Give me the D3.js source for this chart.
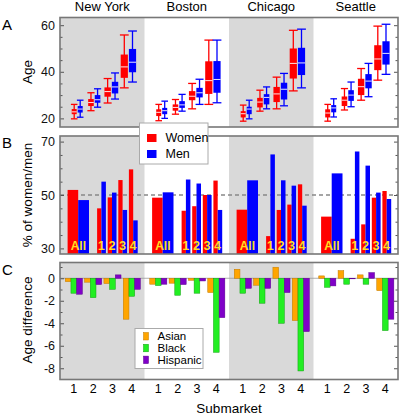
<!DOCTYPE html>
<html>
<head>
<meta charset="utf-8">
<script src="https://cdn.jsdelivr.net/npm/d3@7"></script>
<style>
  body { margin: 0; background: #fff; }
  svg text { font-family: "Liberation Sans", Arial, Helvetica, sans-serif; }
</style>
</head>
<body>
<script>
// data
var cities = ["New York", "Boston", "Chicago", "Seattle"];
var submarkets = ["1", "2", "3", "4"];

// panel A : [low whisker, q1, median, q3, high whisker]
var ageWomen = [
  [[19.8, 21.8, 22.8, 24.0, 26.0], [23.3, 25.3, 26.8, 28.3, 31.0], [26.6, 29.3, 31.5, 33.3, 37.1], [33.1, 37.4, 42.1, 47.4, 55.8]],
  [[19.0, 21.0, 22.6, 23.9, 26.0], [21.8, 23.3, 24.7, 26.0, 28.1], [24.1, 27.8, 29.5, 31.7, 35.0], [26.0, 30.5, 36.2, 44.5, 53.6]],
  [[18.8, 20.4, 22.0, 23.1, 25.7], [23.1, 24.7, 27.0, 28.8, 32.1], [24.1, 27.0, 30.5, 33.5, 37.7], [31.8, 37.1, 43.6, 50.0, 57.8]],
  [[18.8, 20.4, 22.3, 23.9, 26.0], [23.6, 25.3, 27.8, 29.4, 32.8], [27.8, 30.0, 33.6, 37.0, 41.4], [36.4, 40.7, 45.5, 51.4, 59.6]]
];
var ageMen = [
  [[20.5, 22.5, 24.0, 25.3, 27.8], [24.8, 26.7, 28.0, 30.0, 32.7], [28.3, 30.7, 33.5, 35.7, 39.5], [35.6, 39.8, 44.1, 49.8, 57.5]],
  [[20.0, 21.8, 23.3, 24.5, 27.4], [23.1, 24.5, 25.8, 27.4, 30.3], [26.0, 29.0, 31.0, 33.1, 36.8], [26.7, 31.0, 36.7, 44.6, 53.6]],
  [[19.8, 21.8, 24.0, 25.0, 27.8], [24.1, 26.0, 29.0, 30.4, 33.5], [25.4, 28.1, 32.5, 35.3, 39.3], [33.1, 38.6, 43.8, 50.3, 58.3]],
  [[20.6, 22.6, 24.5, 25.7, 28.4], [25.0, 27.5, 30.0, 32.1, 35.6], [29.3, 32.9, 36.0, 39.0, 43.6], [38.9, 43.1, 47.9, 53.1, 60.4]]
];

// panel B : % of women / men
var pctWomenAll = [51.9, 49.0, 44.5, 41.9];
var pctMenAll = [48.1, 51.0, 55.5, 58.1];
var pctWomen = [[45.0, 49.1, 55.6, 59.6], [44.1, 45.8, 50.0, 55.4], [34.6, 44.4, 46.4, 54.0], [33.6, 39.0, 49.0, 51.5]];
var pctMen = [[55.0, 50.9, 44.4, 40.5], [55.8, 54.3, 50.0, 44.4], [65.2, 55.5, 53.5, 46.0], [66.3, 61.0, 50.9, 48.5]];

// panel C : age difference
var diffAsian = [[-0.30, -0.35, -0.47, -3.64], [-0.53, -0.44, -0.18, -1.27], [0.80, -0.62, 0.98, -3.76], [0.21, 0.68, 0.30, -1.10]];
var diffBlack = [[-1.33, -1.72, -0.98, -1.60], [-0.65, -1.51, -1.33, -6.58], [-1.33, -2.22, -4.00, -8.24], [-0.80, -0.53, -0.53, -4.65]];
var diffHispanic = [[-1.42, -0.56, 0.30, -0.98], [-0.53, -0.56, -0.24, -3.50], [-0.89, -0.89, -1.27, -4.74], [-0.68, -0.05, 0.50, -3.64]];

var ageTicks = [20, 40, 60];
var pctTicks = [30, 50, 70];
var diffTicks = [0, -2, -4, -6, -8];
var diffLabels = ["0", "-2", "-4", "-6", "-8"];

var width = 400, height = 417;
var left = 60, right = 398;
var red = "#ff0000", blue = "#0000ff";
var groupColors = ["#ffa500", "#22ee22", "#8000c8"];
var groupStroke = ["#c07800", "#10a010", "#5a0090"];

var svg = d3.select("body").append("svg")
  .attr("width", width)
  .attr("height", height);

var xCity = d3.scaleBand().domain(cities).range([left, right]);

// positions inside one city column
var xA = d3.scaleLinear().domain([0, 3]).range([17.2, 68.4]);
var xB = d3.scaleLinear().domain([0, 3]).range([41.4, 73.2]);
var xC = d3.scaleLinear().domain([0, 3]).range([13.8, 71.8]);

var yA = d3.scaleLinear().domain([16.3, 63.3]).range([127, 17.5]);
var yB = d3.scaleLinear().domain([27.9, 72.1]).range([254, 136]);
var yC = d3.scaleLinear().domain([-9, 1.4]).range([379.5, 262.5]);

function background(y) {
  var r = y.range();
  svg.append("g").selectAll("rect")
    .data(cities.filter(function(d, i) { return i % 2 == 0; }))
    .enter().append("rect")
    .attr("x", function(d) { return xCity(d); })
    .attr("y", r[1])
    .attr("width", xCity.bandwidth())
    .attr("height", r[0] - r[1])
    .attr("fill", "#d9d9d9");
}

function frame(y, major, minor, labels) {
  var r = y.range();
  var g = svg.append("g");
  var axL = g.append("g").attr("transform", "translate(" + left + ",0)")
    .call(d3.axisLeft(y).tickValues(major).tickSize(-4).tickPadding(5)
      .tickFormat(function(d, i) { return labels ? labels[i] : d; }));
  axL.selectAll("text").attr("font-size", 12.5).attr("fill", "#111")
    .style("font-family", "Liberation Sans, Arial, sans-serif");
  g.append("g").attr("transform", "translate(" + left + ",0)")
    .call(d3.axisLeft(y).tickValues(minor).tickSize(-2.5).tickFormat(""));
  g.append("g").attr("transform", "translate(" + right + ",0)")
    .call(d3.axisRight(y).tickValues(major).tickSize(-4).tickFormat(""));
  g.append("g").attr("transform", "translate(" + right + ",0)")
    .call(d3.axisRight(y).tickValues(minor).tickSize(-2.5).tickFormat(""));
  g.selectAll(".domain").remove();
  g.selectAll(".tick line").attr("stroke", "#555");
  g.append("rect")
    .attr("x", left).attr("y", r[1])
    .attr("width", right - left).attr("height", r[0] - r[1])
    .attr("fill", "none").attr("stroke", "#777").attr("stroke-width", 1.6);
}

// ---------- panel A ----------
background(yA);

var boxW = [5, 5.6, 6.4, 7.2];
function boxes(data, color, shift) {
  cities.forEach(function(c, ci) {
    data[ci].forEach(function(s, si) {
      var cx = xCity(c) + xA(si) + shift * (boxW[si] / 2 + 0.5);
      var w = boxW[si];
      var g = svg.append("g");
      g.append("line").attr("x1", cx).attr("x2", cx)
        .attr("y1", yA(s[0])).attr("y2", yA(s[4]))
        .attr("stroke", color).attr("stroke-width", 1.3);
      [s[0], s[4]].forEach(function(v) {
        g.append("line").attr("x1", cx - w / 2 - 0.8).attr("x2", cx + w / 2 + 0.8)
          .attr("y1", yA(v)).attr("y2", yA(v))
          .attr("stroke", color).attr("stroke-width", 1.3);
      });
      g.append("rect").attr("x", cx - w / 2).attr("width", w)
        .attr("y", yA(s[3])).attr("height", yA(s[1]) - yA(s[3]))
        .attr("fill", color);
      g.append("line").attr("x1", cx - w / 2).attr("x2", cx + w / 2)
        .attr("y1", yA(s[2])).attr("y2", yA(s[2]))
        .attr("stroke", "#fff").attr("stroke-width", 0.9);
    });
  });
}
boxes(ageWomen, red, -1);
boxes(ageMen, blue, 1);
frame(yA, ageTicks, [25, 30, 35, 45, 50, 55], null);

// city names
svg.append("g").selectAll("text")
  .data(cities).enter().append("text")
  .attr("x", function(d) { return xCity(d) + xCity.bandwidth() / 2; })
  .attr("y", 11)
  .attr("text-anchor", "middle")
  .attr("font-size", 13)
  .text(function(d) { return d; });

// ---------- panel B ----------
background(yB);

svg.append("line")
  .attr("x1", left).attr("x2", right)
  .attr("y1", yB(50)).attr("y2", yB(50))
  .attr("stroke", "#888").attr("stroke-width", 1.3)
  .attr("stroke-dasharray", "4,3");

var bB = yB.range()[0];
cities.forEach(function(c, ci) {
  var x = xCity(c);
  // "All" pair
  svg.append("rect").attr("x", x + 7.6).attr("width", 10.6)
    .attr("y", yB(pctWomenAll[ci])).attr("height", bB - yB(pctWomenAll[ci]))
    .attr("fill", red);
  svg.append("rect").attr("x", x + 18.2).attr("width", 10.8)
    .attr("y", yB(pctMenAll[ci])).attr("height", bB - yB(pctMenAll[ci]))
    .attr("fill", blue);
  svg.append("text").attr("x", x + 18.3).attr("y", 250)
    .attr("text-anchor", "middle").attr("font-size", 12).attr("font-weight", "bold")
    .attr("fill", "#ffe020").text("All");
  submarkets.forEach(function(s, si) {
    var cx = x + xB(si);
    svg.append("rect").attr("x", cx - 4.3).attr("width", 4.3)
      .attr("y", yB(pctWomen[ci][si])).attr("height", bB - yB(pctWomen[ci][si]))
      .attr("fill", red);
    svg.append("rect").attr("x", cx).attr("width", 4.5)
      .attr("y", yB(pctMen[ci][si])).attr("height", bB - yB(pctMen[ci][si]))
      .attr("fill", blue);
    svg.append("text").attr("x", cx).attr("y", 250)
      .attr("text-anchor", "middle").attr("font-size", 12).attr("font-weight", "bold")
      .attr("fill", "#ffe020").text(s);
  });
});
frame(yB, pctTicks, [35, 40, 45, 55, 60, 65], null);

// ---------- panel C ----------
background(yC);
svg.append("line")
  .attr("x1", left).attr("x2", right)
  .attr("y1", yC(0)).attr("y2", yC(0))
  .attr("stroke", "#999").attr("stroke-width", 0.8);

var groups = [diffAsian, diffBlack, diffHispanic];
var bw = 5.7;
groups.forEach(function(gd, gi) {
  cities.forEach(function(c, ci) {
    gd[ci].forEach(function(v, si) {
      var cx = xCity(c) + xC(si) + (gi - 1) * bw;
      svg.append("rect")
        .attr("x", cx - bw / 2).attr("width", bw)
        .attr("y", Math.min(yC(v), yC(0)))
        .attr("height", Math.abs(yC(v) - yC(0)))
        .attr("fill", groupColors[gi])
        .attr("stroke", groupStroke[gi]).attr("stroke-width", 0.5);
    });
  });
});
frame(yC, diffTicks, [1, -1, -3, -5, -7], diffLabels);

// submarket tick labels
cities.forEach(function(c) {
  svg.append("g").selectAll("text")
    .data(submarkets).enter().append("text")
    .attr("x", function(d, i) { return xCity(c) + xC(i); })
    .attr("y", 393)
    .attr("text-anchor", "middle")
    .attr("font-size", 12.5)
    .text(function(d) { return d; });
});
svg.append("text").attr("x", 229).attr("y", 413)
  .attr("text-anchor", "middle").attr("font-size", 13.5).text("Submarket");

// axis titles
var titles = [["Age", 72], ["% of women/men", 195], ["Age difference", 320]];
titles.forEach(function(t) {
  svg.append("text")
    .attr("transform", "translate(32," + t[1] + ") rotate(-90)")
    .attr("text-anchor", "middle").attr("font-size", 13.5)
    .text(t[0]);
});

// panel letters
[["A", 30], ["B", 148], ["C", 275]].forEach(function(p) {
  svg.append("text").attr("x", 2).attr("y", p[1])
    .attr("font-size", 15).text(p[0]);
});

// legend women / men
var lg = svg.append("g");
lg.append("rect").attr("x", 139.5).attr("y", 123).attr("width", 68.5).attr("height", 41)
  .attr("fill", "#fff").attr("stroke", "#aaa").attr("stroke-width", 1);
[["Women", red], ["Men", blue]].forEach(function(d, i) {
  lg.append("rect").attr("x", 147).attr("y", 134 + i * 16).attr("width", 9.5).attr("height", 8)
    .attr("fill", d[1]);
  lg.append("text").attr("x", 165.5).attr("y", 142 + i * 16)
    .attr("font-size", 12.5).text(d[0]);
});

// legend groups
var lc = svg.append("g");
lc.append("rect").attr("x", 135).attr("y", 328.5).attr("width", 68).attr("height", 40)
  .attr("fill", "#fff").attr("stroke", "#aaa").attr("stroke-width", 1);
["Asian", "Black", "Hispanic"].forEach(function(d, i) {
  lc.append("rect").attr("x", 143.5).attr("y", 332.5 + i * 11.8).attr("width", 5).attr("height", 7.5)
    .attr("fill", groupColors[i]).attr("stroke", groupStroke[i]).attr("stroke-width", 0.5);
  lc.append("text").attr("x", 157.5).attr("y", 340.3 + i * 11.8)
    .attr("font-size", 11.5).text(d);
});
</script>
</body>
</html>
